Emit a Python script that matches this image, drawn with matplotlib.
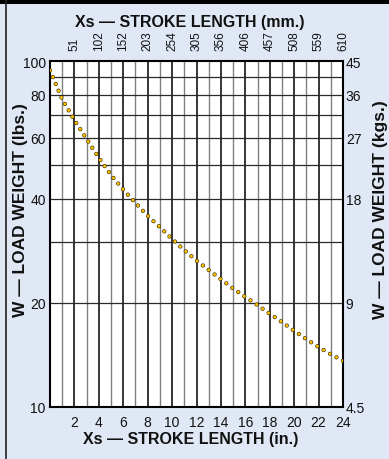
import matplotlib
matplotlib.use('Agg')
import matplotlib.pyplot as plt
from matplotlib.ticker import NullLocator, FixedLocator, FixedFormatter
from matplotlib.patches import Rectangle
from matplotlib.lines import Line2D

# stroke length (in.) and load weight (lbs.)
stroke_in = [0, 1, 2, 3, 4, 5, 6, 7, 8, 9, 10, 11, 12,
             13, 14, 15, 16, 17, 18, 19, 20, 21, 22, 23, 24]
load_lbs = [94, 77.5, 67.5, 59.5, 52.5, 46.8, 42.5, 38.9, 35.7, 33.1, 30.6, 28.4, 26.5,
            24.9, 23.4, 22.0, 20.8, 19.7, 18.6, 17.6, 16.6, 15.7, 14.9, 14.2, 13.6]

in_ticks = [2, 4, 6, 8, 10, 12, 14, 16, 18, 20, 22, 24]
mm_labels = ['51', '102', '152', '203', '254', '305', '356', '406', '457', '508', '559', '610']
lbs_ticks = [10, 20, 40, 60, 80, 100]
kg_labels = ['4.5', '9', '18', '27', '36', '45']
hgrid = [20, 30, 40, 50, 60, 70, 80, 90]

BG = '#e1e8f5'
FONT = ['Liberation Sans', 'DejaVu Sans']
plt.rcParams['font.family'] = FONT
plt.rcParams['lines.scale_dashes'] = False

fig = plt.figure(figsize=(3.89, 4.60), dpi=100, facecolor=BG)
ax = fig.add_axes([50 / 389, 1 - 408 / 460, 293 / 389, 346 / 460])
ax.set_facecolor('white')
ax.set_xlim(0, 24)
ax.set_yscale('log')
ax.set_ylim(10, 100)

# grid
for x in range(1, 24):
    if x % 2 == 0:
        ax.axvline(x, color='black', lw=1.1, zorder=1)
    else:
        ax.axvline(x, color='#808080', lw=1.0, zorder=1)
for y in hgrid:
    ax.axhline(y, color='#2a2a2a', lw=0.9, zorder=1)

# dotted curve: dark outline dots with gold fill
dash = (0, (0.01, 5.3))
ax.plot(stroke_in, load_lbs, color='#3a2a00', lw=3.1, linestyle=dash,
        dash_capstyle='round', zorder=3)
ax.plot(stroke_in, load_lbs, color='#fcc200', lw=2.2, linestyle=dash,
        dash_capstyle='round', zorder=4)

for s in ax.spines.values():
    s.set_linewidth(1.5)
    s.set_color('black')

# bottom / left ticks
ax.yaxis.set_minor_locator(NullLocator())
ax.yaxis.set_major_locator(FixedLocator(lbs_ticks))
ax.yaxis.set_major_formatter(FixedFormatter([str(v) for v in lbs_ticks]))
ax.xaxis.set_major_locator(FixedLocator(in_ticks))
ax.xaxis.set_major_formatter(FixedFormatter([str(v) for v in in_ticks]))
ax.tick_params(axis='both', length=0, labelsize=10, colors='#111111')
ax.tick_params(axis='x', pad=6)
ax.tick_params(axis='y', pad=3)

# right kg axis
ax2 = ax.twinx()
ax2.set_yscale('log')
ax2.set_ylim(10, 100)
ax2.yaxis.set_minor_locator(NullLocator())
ax2.yaxis.set_major_locator(FixedLocator(lbs_ticks))
ax2.yaxis.set_major_formatter(FixedFormatter(kg_labels))
ax2.tick_params(axis='y', length=0, labelsize=10, pad=2, colors='#111111')
for s in ax2.spines.values():
    s.set_visible(False)

# top mm axis
ax3 = ax.twiny()
ax3.set_xlim(0, 24)
ax3.xaxis.set_major_locator(FixedLocator(in_ticks))
ax3.xaxis.set_major_formatter(FixedFormatter(mm_labels))
ax3.tick_params(axis='x', length=0, labelsize=8.5, pad=8, labelrotation=90, colors='#111111')
for s in ax3.spines.values():
    s.set_visible(False)

# titles
title_kw = dict(fontweight='bold', color='#111111')
fig.text(190 / 389, 1 - 22 / 460, 'Xs — STROKE LENGTH (mm.)', ha='center', va='center',
         fontsize=11.5, **title_kw)
fig.text(191 / 389, 1 - 440 / 460, 'Xs — STROKE LENGTH (in.)', ha='center', va='center',
         fontsize=11.5, **title_kw)
fig.text(21 / 389, 1 - 210 / 460, 'W — LOAD WEIGHT (lbs.)', ha='center', va='center',
         rotation=90, fontsize=12.5, **title_kw)
fig.text(380 / 389, 1 - 210 / 460, 'W — LOAD WEIGHT (kgs.)', ha='center', va='center',
         rotation=90, fontsize=12.5, **title_kw)

# frame: black band on top, rule on the left
fig.patches.append(Rectangle((0, 1 - 5 / 460), 1, 5 / 460, transform=fig.transFigure,
                             facecolor='black', edgecolor='none'))
fig.lines.append(Line2D([6.5 / 389, 6.5 / 389], [0, 1], transform=fig.transFigure,
                        color='#222222', lw=1.2))

fig.savefig('out.png', dpi=100, facecolor=BG)
